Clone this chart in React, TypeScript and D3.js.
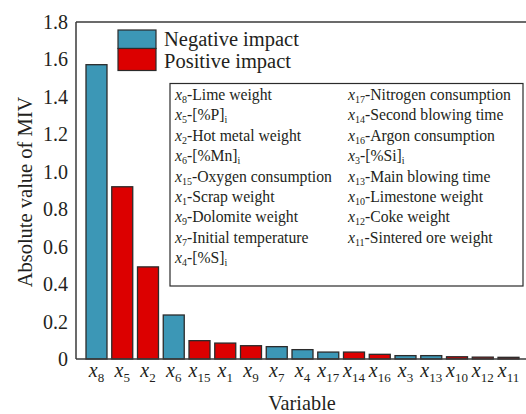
import React from "react";
import * as d3 from "d3";

const variables = ["8", "5", "2", "6", "15", "1", "9", "7", "4", "17", "14", "16", "3", "13", "10", "12", "11"];
const mivValues = [1.572, 0.92, 0.492, 0.235, 0.098, 0.085, 0.071, 0.066, 0.05, 0.037, 0.037, 0.025, 0.018, 0.018, 0.012, 0.01, 0.009];
const impact = ["neg", "pos", "pos", "neg", "pos", "pos", "pos", "neg", "neg", "neg", "pos", "pos", "neg", "neg", "pos", "pos", "pos"];
const yTicks = [0, 0.2, 0.4, 0.6, 0.8, 1.0, 1.2, 1.4, 1.6, 1.8];
const descLeft = [
  ["8", "-Lime weight"],
  ["5", "-[%P]", "i"],
  ["2", "-Hot metal weight"],
  ["6", "-[%Mn]", "i"],
  ["15", "-Oxygen consumption"],
  ["1", "-Scrap weight"],
  ["9", "-Dolomite weight"],
  ["7", "-Initial temperature"],
  ["4", "-[%S]", "i"],
];
const descRight = [
  ["17", "-Nitrogen consumption"],
  ["14", "-Second blowing time"],
  ["16", "-Argon consumption"],
  ["3", "-[%Si]", "i"],
  ["13", "-Main blowing time"],
  ["10", "-Limestone weight"],
  ["12", "-Coke weight"],
  ["11", "-Sintered ore weight"],
];

const colors: Record<string, string> = { neg: "#3c97b6", pos: "#dc0000" };
const ts = { fontFamily: "'Liberation Serif'" };

export default function App() {
  const W = 526, H = 414;
  const left = 76, top = 22, bottom = 359, right = 526;
  const x = d3.scaleBand<string>().domain(variables).range([80.85, 524.15]).paddingInner(0.185).paddingOuter(0.2);
  const y = d3.scaleLinear().domain([0, 1.8]).range([bottom, top]);

  const descRow = (d: string[], i: number, x0: number) => (
    <text key={i} x={x0} y={100 + i * 20.4} fontSize={15.7} fill="#231f20" style={ts}>
      <tspan fontStyle="italic">x</tspan>
      <tspan fontSize={10} dy={3}>{d[0]}</tspan>
      <tspan dy={-3}>{d[1]}</tspan>
      {d[2] ? <tspan fontSize={10} dy={3}>{d[2]}</tspan> : null}
    </text>
  );

  return (
    <svg width={W} height={H} style={{ position: "fixed", left: 0, top: 0, background: "#fff" }}>
      {variables.map((v, i) => (
        <rect key={v} x={x(v)} y={y(mivValues[i])} width={x.bandwidth()} height={bottom - y(mivValues[i])}
          fill={colors[impact[i]]} stroke="#2b2b2b" strokeWidth={1.3} />
      ))}
      <line x1={left} x2={right} y1={top} y2={top} stroke="#3a3a3a" strokeWidth={1.5} />
      <line x1={left} x2={left} y1={top} y2={bottom} stroke="#3a3a3a" strokeWidth={1.5} />
      <line x1={left} x2={right} y1={bottom} y2={bottom} stroke="#3a3a3a" strokeWidth={1.5} />
      {yTicks.map((t) => (
        <text key={t} x={68} y={y(t)} dy="0.35em" textAnchor="end" fontSize={20} fill="#231f20" style={ts}>
          {t === 0 ? "0" : d3.format(".1f")(t)}
        </text>
      ))}
      <text transform={`translate(32,192) rotate(-90)`} textAnchor="middle" fontSize={20.5} fill="#231f20" style={ts}>
        Absolute value of MIV
      </text>
      {variables.map((v) => (
        <text key={v} x={x(v)! + x.bandwidth() / 2} y={377} textAnchor="middle" fontSize={20} fill="#231f20" style={ts}>
          <tspan fontStyle="italic">x</tspan>
          <tspan fontSize={13} dy={5}>{v}</tspan>
        </text>
      ))}
      <text x={302} y={410} textAnchor="middle" fontSize={20.3} fill="#231f20" style={ts}>Variable</text>
      <rect x={118} y={30} width={38} height={18.5} fill={colors.neg} stroke="#2b2b2b" strokeWidth={1.2} />
      <rect x={118} y={48.5} width={38} height={22} fill={colors.pos} stroke="#2b2b2b" strokeWidth={1.2} />
      <text x={164} y={45.5} fontSize={20.5} fill="#231f20" style={ts}>Negative impact</text>
      <text x={164} y={67.5} fontSize={20.5} fill="#231f20" style={ts}>Positive impact</text>
      <rect x={170} y={83.5} width={353} height={202.5} fill="#fff" stroke="#2b2b2b" strokeWidth={1.2} />
      {descLeft.map((d, i) => descRow(d, i, 175))}
      {descRight.map((d, i) => descRow(d, i, 348))}
    </svg>
  );
}
